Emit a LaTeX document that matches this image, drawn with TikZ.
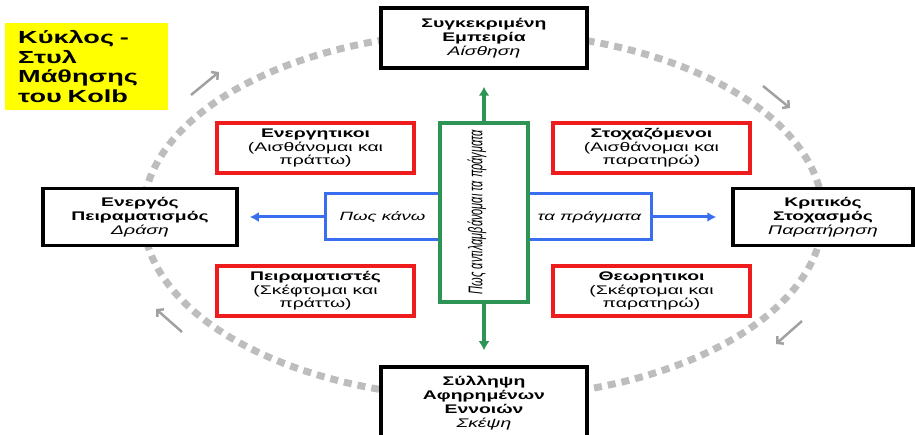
\documentclass[tikz,border=0pt]{standalone}
\usepackage{fontspec}
\usepackage{graphicx}
\setmainfont{Liberation Sans}[FakeStretch=1.55]
\newfontfamily\rotfont{Liberation Sans}
\usetikzlibrary{arrows.meta}
\definecolor{kred}{HTML}{EE1C1C}
\definecolor{kblue}{HTML}{3A6EF0}
\definecolor{kgreen}{HTML}{2E9455}
\definecolor{kgray}{HTML}{BDBDBD}
\definecolor{kyellow}{HTML}{FFFF00}
\begin{document}
\begin{tikzpicture}[x=1pt,y=-1pt,
  stagebox/.style={draw=black, line width=3.5pt, fill=white, align=center, inner sep=0pt,
    font=\fontsize{12.5}{14}\selectfont},
  stylebox/.style={draw=kred, line width=3.5pt, fill=white, align=center, inner sep=0pt,
    minimum width=197pt, minimum height=50pt, font=\fontsize{12.5}{13.5}\selectfont},
  howbox/.style={draw=kblue, line width=3pt, fill=white, inner sep=0pt,
    minimum height=46pt, font=\itshape\fontsize{12}{14}\selectfont},
  percbox/.style={draw=kgreen, line width=3.5pt, fill=white, inner sep=0pt,
    minimum width=88pt, minimum height=179pt},
  titlebox/.style={fill=kyellow, inner xsep=13pt, inner ysep=0pt, minimum width=163pt,
    minimum height=87pt, text width=137pt, align=left,
    font=\bfseries\fontsize{17.5}{19.5}\selectfont},
  cyclering/.style={draw=kgray, line width=7pt, dash pattern=on 8pt off 6pt},
  cyclearrow/.style={draw=kgray!85!black, line width=2.5pt, -{Straight Barb[length=4.5pt,width=10pt]}},
  greenarrow/.style={draw=kgreen, line width=3.5pt, -{Latex[length=9pt,width=11pt]}},
  bluearrow/.style={draw=kblue, line width=3pt, -{Latex[length=9pt,width=10pt]}}
]
\useasboundingbox (0,0) rectangle (915,435);
\clip (0,0) rectangle (915,435);

% cycle ring and direction arrows
\draw[cyclering] (483,215) ellipse [x radius=340pt, y radius=183pt];
\coordinate (a1s) at (191,95);  \coordinate (a1e) at (219,72);
\coordinate (a2s) at (763,86);  \coordinate (a2e) at (790,108);
\coordinate (a3s) at (802,321); \coordinate (a3e) at (776,344);
\coordinate (a4s) at (182,332); \coordinate (a4e) at (156,309);
\draw[cyclearrow] (a1s) -- (a1e);
\draw[cyclearrow] (a2s) -- (a2e);
\draw[cyclearrow] (a3s) -- (a3e);
\draw[cyclearrow] (a4s) -- (a4e);

% title
\node[titlebox, anchor=north west] (title) at (5,23) {Κύκλος -\\Στυλ\\Μάθησης\\του Kolb};

% stage boxes
\node[stagebox, minimum width=206pt, minimum height=60pt] (top) at (484,38)
  {\textbf{Συγκεκριμένη}\\\textbf{Εμπειρία}\\\textit{Αίσθηση}};
\node[stagebox, minimum width=194pt, minimum height=57pt] (left) at (140,217)
  {\textbf{Ενεργός}\\\textbf{Πειραματισμός}\\\textit{Δράση}};
\node[stagebox, minimum width=180pt, minimum height=57pt] (right) at (823,217)
  {\textbf{Κριτικός}\\\textbf{Στοχασμός}\\\textit{Παρατήρηση}};
\node[stagebox, minimum width=206pt, minimum height=72pt] (bot) at (484,403)
  {\textbf{Σύλληψη}\\\textbf{Αφηρημένων}\\\textbf{Εννοιών}\\\textit{Σκέψη}};

% learning style boxes
\node[stylebox] (activ) at (315.5,148) {\textbf{Ενεργητικοι}\\(Αισθάνομαι και\\πράττω)};
\node[stylebox] (refl) at (651.5,148) {\textbf{Στοχαζόμενοι}\\(Αισθάνομαι και\\παρατηρώ)};
\node[stylebox] (pragm) at (315.5,291) {\textbf{Πειραματιστές}\\(Σκέφτομαι και\\πράττω)};
\node[stylebox] (theor) at (651.5,291) {\textbf{Θεωρητικοι}\\(Σκέφτομαι και\\παρατηρώ)};

% processing axis
\node[howbox, minimum width=115pt] (howl) at (382.5,217) {Πως κάνω};
\node[howbox, minimum width=123pt] (howr) at (589.5,217) {τα πράγματα};

% perception axis
\node[percbox] (perc) at (484,212.5) {};
\node[rotate=90, inner sep=0pt] (perctext) at (477,212)
  {\rotfont\itshape\fontsize{11}{12}\selectfont\scalebox{1}[1.8]{Πως αντιλαμβάνομαι τα πράγματα}};

% connectors
\draw[greenarrow, shorten >=17pt] (perc.north) -- (top.south);
\draw[greenarrow, shorten >=15pt] (perc.south) -- (bot.north);
\draw[bluearrow, shorten >=11pt] (howl.west) -- (left.east);
\draw[bluearrow, shorten >=15pt] (howr.east) -- (right.west);
\end{tikzpicture}
\end{document}
